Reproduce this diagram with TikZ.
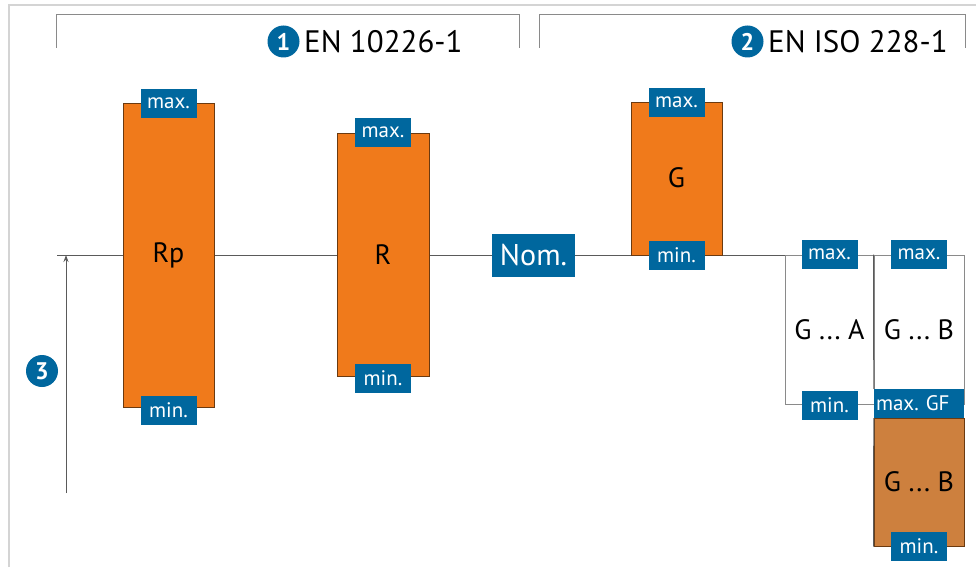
\documentclass[tikz,border=0pt]{standalone}
\usepackage{fontspec}
\setmainfont{PT Sans}
\frenchspacing
\usetikzlibrary{arrows.meta}
\definecolor{tblue}{HTML}{00679E}
\definecolor{torange}{HTML}{F07A1B}
\definecolor{tbrown}{HTML}{CD803E}
\definecolor{tedge}{HTML}{6B3A10}
\definecolor{tline}{HTML}{5A5A5A}
\definecolor{tbrk}{HTML}{8A8A8A}
\definecolor{tframe}{HTML}{D4D4D4}
\tikzset{
  lbl/.style={fill=tblue, text=white, inner sep=0pt, minimum width=56pt, minimum height=29pt, font=\fontsize{21}{21}\selectfont},
  obox/.style={draw=tedge, line width=1pt, fill=torange, inner sep=0pt, font=\fontsize{28}{28}\selectfont},
  bbox/.style={draw=tedge, line width=1pt, fill=tbrown, inner sep=0pt, font=\fontsize{28}{28}\selectfont},
  wbox/.style={draw=tbrk, line width=1pt, fill=white, inner sep=0pt, font=\fontsize{28}{28}\selectfont},
  num/.style={circle, fill=tblue, text=white, inner sep=0pt, minimum size=32pt, font=\bfseries\fontsize{24}{24}\selectfont},
  ttl/.style={anchor=west, inner sep=0pt, font=\fontsize{31}{31}\selectfont},
  brk/.style={draw=tbrk, line width=1pt},
  mainline/.style={draw=tline, line width=1pt}
}
\begin{document}
\begin{tikzpicture}[x=1pt,y=-1pt]
\useasboundingbox (0,0) rectangle (976,567);
% frame
\draw[tframe, line width=1.5pt] (9,567) -- (9,5) -- (976,5);
% brackets
\draw[brk] (56,48) -- (56,15) -- (519,15) -- (519,48);
\draw[brk] (539,48) -- (539,15) -- (965,15) -- (965,48);
\node[num] (n1) at (283.5,41.5) {1};
\node[ttl] (t1) at (304,41.5) {EN 10226-1};
\node[num] (n2) at (747.5,41.5) {2};
\node[ttl] (t2) at (768,41.5) {EN ISO 228-1};
% main line
\coordinate (l0) at (57,255);
\coordinate (l1) at (965,255);
\draw[mainline] (l0) -- (l1);
% arrow 3
\coordinate (a0) at (66,493);
\coordinate (a1) at (66,255);
\draw[tline, line width=1pt, -{Stealth[length=7pt,width=5pt]}] (a0) -- (a1);
\node[num] (n3) at (42,371) {3};
% Rp
\node[obox, minimum width=91pt, minimum height=303pt] (rp) at (168.5,255.5) {Rp};
\node[lbl] (rpmax) at (rp.north) {max.};
\node[lbl] (rpmin) at ([yshift=-3pt]rp.south) {min.};
% R
\node[obox, minimum width=92pt, minimum height=243pt] (r) at (383,254.5) {R};
\node[lbl] (rmax) at (r.north) {max.};
\node[lbl] (rmin) at ([yshift=-2pt]r.south) {min.};
% Nom
\node[fill=tblue, text=white, inner sep=0pt, minimum width=83pt, minimum height=43pt, font=\fontsize{30}{30}\selectfont] (nom) at (533.5,255.5) {Nom.};
% G
\node[obox, minimum width=91pt, minimum height=152pt] (g) at (676.5,179) {};
\node[font=\fontsize{28}{28}\selectfont, inner sep=0pt] (gt) at (676.5,178) {G};
\node[lbl] (gmax) at (g.north) {max.};
\node[lbl] (gmin) at (g.south) {min.};
% G ... A
\node[wbox, minimum width=89pt, minimum height=149pt] (ga) at (829.5,329.5) {G ... A};
\node[lbl] (gamax) at (ga.north) {max.};
\node[lbl] (gamin) at ([yshift=-0.5pt]ga.south) {min.};
% G ... B upper
\node[wbox, minimum width=90pt, minimum height=149pt] (gb) at (919,329.5) {G ... B};
% brown G ... B
\node[bbox, minimum width=90pt, minimum height=128pt] (gb2) at (919,482) {G ... B};
\node[fill=tblue, text=white, inner sep=0pt, minimum width=90pt, minimum height=29pt, text width=86pt, align=left, font=\fontsize{21}{21}\selectfont] (gf) at (919,403.5) {max. GF};
\draw[tline, line width=1pt] (gb.north west) -- (gf.north west);
\draw[tline, line width=1pt] (gf.south west) -- (gb2.south west);
\node[lbl] (gbmax) at (gb.north) {max.};
\node[lbl] (gbmin) at ([yshift=0.5pt]gb2.south) {min.};
\end{tikzpicture}
\end{document}
